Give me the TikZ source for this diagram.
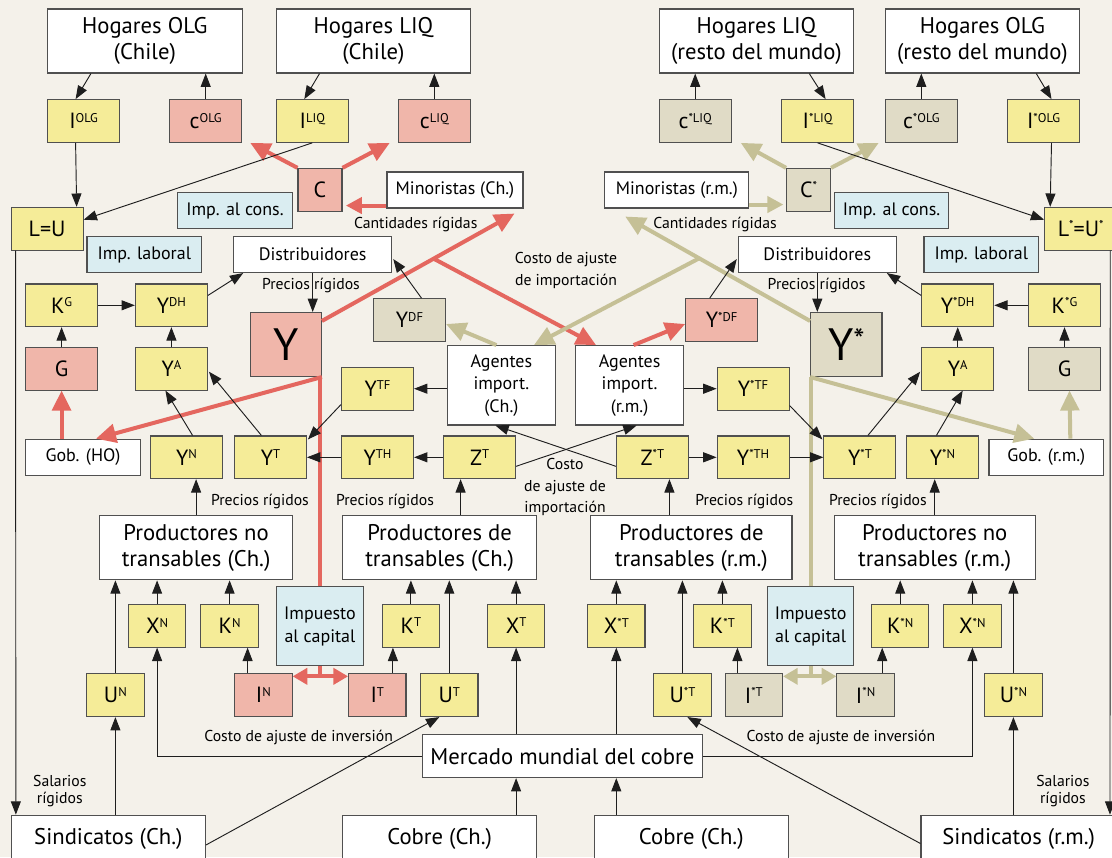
\documentclass[tikz,border=0pt]{standalone}
\usepackage{fontspec}
\setmainfont{PT Sans}
\usetikzlibrary{
    arrows.meta,
    calc,
    positioning
}
\definecolor{fondo}{RGB}{244,241,234}
\definecolor{amarillo}{RGB}{245,236,152}
\definecolor{rosa}{RGB}{240,182,170}
\definecolor{celeste}{RGB}{218,237,241}
\definecolor{caqui}{RGB}{224,219,198}
\definecolor{borde}{RGB}{80,80,80}
\definecolor{linea}{RGB}{30,30,30}
\definecolor{rojoflecha}{RGB}{228,103,95}
\definecolor{caquiflecha}{RGB}{197,192,150}
\newcommand\vsup[2]{#1\raisebox{4.9pt}{\fontsize{9.5}{9.5}\selectfont #2}}
\tikzset{
    every picture/.style = {
        > = {Triangle[length = 10pt, width = 7.5pt]},
        line width = 0.7pt,
        draw = linea
    },
    caja/.style = {
        draw = borde,
        line width = 0.8pt,
        inner sep = 0pt,
        align = center
    },
    hogar/.style = {
        caja, fill = white,
        minimum width = 146pt, minimum height = 48pt,
        font = \fontsize{17}{20}\selectfont
    },
    medio/.style = {
        caja, fill = white,
        minimum height = 27pt,
        font = \fontsize{13.5}{17}\selectfont
    },
    magnitud/.style = {
        caja, fill = amarillo,
        minimum width = 54pt, minimum height = 32pt,
        font = \fontsize{16.5}{18}\selectfont
    },
    chica/.style = {magnitud, minimum width = 43pt},
    grande/.style = {
        caja,
        minimum width = 53.5pt, minimum height = 48pt,
        font = \fontsize{34}{34}\selectfont
    },
    rojiza/.style = {fill = rosa},
    caqui/.style = {fill = caqui},
    impuesto/.style = {medio, fill = celeste},
    etiq/.style = {
        inner sep = 0pt, align = center,
        font = \fontsize{11.8}{16.3}\selectfont
    },
    flecharoja/.style = {
        draw = rojoflecha, line width = 3pt,
        -{Triangle[length = 15pt, width = 14pt]}
    },
    flechacaqui/.style = {
        draw = caquiflecha, line width = 3pt,
        -{Triangle[length = 15pt, width = 14pt]}
    },
    corta/.style = {-{Triangle[length = 11pt, width = 12pt]}}
}

\begin{document}
\begin{tikzpicture}[x = 0.75pt, y = -0.75pt]
\fill[fondo] (0,0) rectangle (1112,857);
\useasboundingbox (0,0) rectangle (1112,857);
\clip (0,0) rectangle (1112,857);

% hogares
\node[hogar] (hoc) at (144.8,41) {Hogares OLG\\(Chile)};
\node[hogar] (hlc) at (373.4,41) {Hogares LIQ\\(Chile)};
\node[hogar] (hlr) at (756.4,41) {Hogares LIQ\\(resto del mundo)};
\node[hogar] (hor) at (982.4,41) {Hogares OLG\\(resto del mundo)};

\node[magnitud] (iolg) at (83.6,121) {\vsup{I}{OLG}};
\node[magnitud, rojiza] (colg) at (205.7,121) {\vsup{c}{OLG}};
\node[magnitud] (iliq) at (312.3,121) {\vsup{I}{LIQ}};
\node[magnitud, rojiza] (cliq) at (434.3,121) {\vsup{c}{LIQ}};
\node[magnitud, caqui] (cliqs) at (695.2,121) {\vsup{c}{*LIQ}};
\node[magnitud] (iliqs) at (817.6,121) {\vsup{I}{*LIQ}};
\node[magnitud, caqui] (colgs) at (921.3,121) {\vsup{c}{*OLG}};
\node[magnitud] (iolgs) at (1043.5,121) {\vsup{I}{*OLG}};

\node[magnitud, rojiza, minimum width = 33pt] (c) at (320,189.7) {C};
\node[magnitud, caqui, minimum width = 33pt] (cs) at (808.6,189.7) {\vsup{C}{*}};
\node[medio, minimum width = 102pt] (minc) at (455,190) {Minoristas (Ch.)};
\node[medio, minimum width = 108pt] (minr) at (676.8,190) {Minoristas (r.m.)};
\node[impuesto, minimum width = 86pt] (impcc) at (235,210.8) {Imp. al cons.};
\node[impuesto, minimum width = 86pt] (impcr) at (891.6,210.8) {Imp. al cons.};
\node[magnitud] (lu) at (47.1,228.7) {L=U};
\node[magnitud] (lus) at (1080.7,228.7) {\vsup{L}{*}=\vsup{U}{*}};
\node[impuesto, minimum width = 86pt] (implc) at (144.3,254.5) {Imp. laboral};
\node[impuesto, minimum width = 86pt] (implr) at (981.3,254.5) {Imp. laboral};
\node[medio, minimum width = 118.5pt] (distc) at (312.7,254.5) {Distribuidores};
\node[medio, minimum width = 118.5pt] (distr) at (817.3,254.5) {Distribuidores};

% Chile
\node[magnitud] (kg) at (61.6,305.3) {\vsup{K}{G}};
\node[magnitud] (ydh) at (171.4,305.3) {\vsup{Y}{DH}};
\node[magnitud, rojiza] (g) at (61.6,368.7) {G};
\node[magnitud] (ya) at (171.4,368.7) {\vsup{Y}{A}};
\node[grande, rojiza] (y) at (285.7,344.5) {Y};
\node[magnitud, caqui] (ydf) at (409.5,320) {\vsup{Y}{DF}};
\node[medio, minimum width = 81pt, minimum height = 59.5pt] (agc) at (501.4,385.3) {Agentes\\import.\\(Ch.)};
\node[magnitud] (ytf) at (377.5,388.7) {\vsup{Y}{TF}};
\node[medio, minimum width = 86pt] (gobc) at (83,457.2) {Gob. (HO)};
\node[magnitud] (yn) at (186.6,457.3) {\vsup{Y}{N}};
\node[magnitud] (yt) at (270.4,457.3) {\vsup{Y}{T}};
\node[magnitud] (yth) at (377.5,457.3) {\vsup{Y}{TH}};
\node[magnitud] (zt) at (479.6,457.3) {\vsup{Z}{T}};

% resto del mundo
\node[magnitud, rojiza] (ydfs) at (721.7,320) {\vsup{Y}{*DF}};
\node[grande, caqui] (ys) at (846.3,344.5) {Y\raisebox{7pt}{\fontsize{24}{24}\selectfont *}};
\node[medio, minimum width = 81pt, minimum height = 59.5pt] (agr) at (629.6,385.3) {Agentes\\import.\\(r.m.)};
\node[magnitud] (ytfs) at (753.1,388.7) {\vsup{Y}{*TF}};
\node[magnitud] (ydhs) at (957.7,305.3) {\vsup{Y}{*DH}};
\node[magnitud] (kgs) at (1064.5,305.3) {\vsup{K}{*G}};
\node[magnitud] (yas) at (957.7,368.7) {\vsup{Y}{A}};
\node[magnitud, caqui] (gs) at (1064.5,368.7) {G};
\node[magnitud] (zts) at (652.4,457.3) {\vsup{Z}{*T}};
\node[magnitud] (yths) at (753.1,457.3) {\vsup{Y}{*TH}};
\node[magnitud] (yts) at (859.9,457.3) {\vsup{Y}{*T}};
\node[magnitud] (yns) at (942.4,457.3) {\vsup{Y}{*N}};
\node[medio, minimum width = 86pt] (gobr) at (1046.3,457.2) {Gob. (r.m.)};

% productores
\node[hogar, minimum width = 145pt] (pnc) at (196.1,547.8) {Productores no\\transables (Ch.)};
\node[hogar, minimum width = 145pt] (ptc) at (439.6,547.8) {Productores de\\transables (Ch.)};
\node[hogar, minimum width = 151pt] (ptr) at (691.3,547.8) {Productores de\\transables (r.m.)};
\node[hogar, minimum width = 151pt] (pnr) at (934.7,547.8) {Productores no\\transables (r.m.)};

\node[chica] (xn) at (157.1,625.8) {\vsup{X}{N}};
\node[chica] (kn) at (229.6,625.8) {\vsup{K}{N}};
\node[chica] (kt) at (410.9,625.8) {\vsup{K}{T}};
\node[chica] (xt) at (516.1,625.8) {\vsup{X}{T}};
\node[chica] (xts) at (616.3,625.8) {\vsup{X}{*T}};
\node[chica] (kts) at (722.4,625.8) {\vsup{K}{*T}};
\node[chica] (kns) at (900.2,625.8) {\vsup{K}{*N}};
\node[chica] (xns) at (972.4,625.8) {\vsup{X}{*N}};
\node[impuesto, minimum width = 65pt, minimum height = 59pt] (impkc) at (320,626.2) {Impuesto\\al capital};
\node[impuesto, minimum width = 65pt, minimum height = 59pt] (impkr) at (810.6,626.2) {Impuesto\\al capital};

\node[chica] (un) at (115.4,695.2) {\vsup{U}{N}};
\node[chica, rojiza] (invn) at (263.4,695.2) {\vsup{I}{N}};
\node[chica, rojiza] (invt) at (377.3,695.2) {\vsup{I}{T}};
\node[chica] (ut) at (449.3,695.2) {\vsup{U}{T}};
\node[chica] (uts) at (682.4,695.2) {\vsup{U}{*T}};
\node[chica, caqui] (invts) at (753.8,695.2) {\vsup{I}{*T}};
\node[chica, caqui] (invns) at (865.6,695.2) {\vsup{I}{*N}};
\node[chica] (uns) at (1013.4,695.2) {\vsup{U}{*N}};

\node[hogar, minimum width = 210pt, minimum height = 32pt] (merc) at (562.3,756.2) {Mercado mundial del cobre};
\node[hogar, minimum width = 145.5pt, minimum height = 35pt] (cobc) at (439.7,838.5) {Cobre (Ch.)};
\node[hogar, minimum width = 145.5pt, minimum height = 35pt] (cobr) at (691.3,838.5) {Cobre (Ch.)};
\node[hogar, minimum width = 145.5pt, minimum height = 35pt] (sc) at (108.4,838.5) {Sindicatos (Ch.)};
\node[hogar, minimum width = 146.6pt, minimum height = 35pt] (sr) at (1018.7,838.5) {Sindicatos (r.m.)};

% etiquetas
\node[etiq] (cr1) at (415.7,224.3) {Cantidades rígidas};
\node[etiq] (cr2) at (715,224.3) {Cantidades rígidas};
\node[etiq] (pr1) at (311,285) {Precios rígidos};
\node[etiq] (pr2) at (816.6,285) {Precios rígidos};
\node[etiq] (pr3) at (260,501.7) {Precios rígidos};
\node[etiq] (pr4) at (385,501.7) {Precios rígidos};
\node[etiq] (pr5) at (744.3,501.7) {Precios rígidos};
\node[etiq] (pr6) at (877.9,501.7) {Precios rígidos};
\node[etiq] (cai1) at (298.6,737.3) {Costo de ajuste de inversión};
\node[etiq] (cai2) at (840.9,737.3) {Costo de ajuste de inversión};
\node[etiq, font = \fontsize{11.8}{17}\selectfont] (cam1) at (566,270.5) {Costo de ajuste\\de importación};
\node[etiq] (cam2) at (565,487) {Costo\\de ajuste de\\importación};
\node[etiq, font = \fontsize{11.8}{12.5}\selectfont] (sal1) at (59.8,791) {Salarios\\rígidos};
\node[etiq, font = \fontsize{11.8}{12.5}\selectfont] (sal2) at (1062.9,791) {Salarios\\rígidos};

% flechas gruesas
\draw[flecharoja] (c.north west) -- ($(colg.south east)+(8,0)$);
\draw[flecharoja] (c.north east) -- ($(cliq.south west)+(-8,0)$);
\draw[flechacaqui] (cs.north west) -- ($(cliqs.south east)+(9,0)$);
\draw[flechacaqui] (cs.north east) -- ($(colgs.south west)+(-6,0)$);
\draw[flecharoja, -{Triangle[length = 12pt, width = 12pt]}, shorten > = 2.5pt]
    ($(minc.south west)+(0,-3)$) coordinate (m1) -- (m1 -| c.east);
\draw[flechacaqui, -{Triangle[length = 12pt, width = 12pt]}, shorten > = 2pt]
    ($(minr.south east)+(0,-4)$) coordinate (m2) -- (m2 -| cs.west);
\draw[flecharoja] (y.south east) -- ($(gobc.north)+(13,0)$);
\draw[flecharoja] (gobc.north -| g.south) -- (g.south);
\draw[flecharoja] ($(y.north east)+(0,9)$) coordinate (r0) -- ($(minc.south east)+(-9,5)$) coordinate (r1);
\draw[flecharoja] ($(r0)!0.58!(r1)$) -- ($(agr.north west)+(21,0)$);
\draw[flecharoja] ($(agr.north)+(4,0)$) -- ($(ydfs.west)+(0,4)$);
\draw[flechacaqui] ($(ys.north west)+(0,9)$) coordinate (q0) -- ($(minr.south west)+(21,8)$) coordinate (q1);
\draw[flechacaqui] ($(q0)!0.6!(q1)$) -- ($(agc.north east)+(-22,0)$);
\draw[flechacaqui] ($(agc.north)+(-5,0)$) -- ($(ydf.east)+(0,4)$);
\draw[flechacaqui] (ys.south west) -- ($(gobr.north)+(-12,0)$);
\draw[flechacaqui] ($(gobr.north)+(24,0)$) -- ($(gs.south)+(5,0)$);
\draw[flecharoja, -] (impkc.north) -- (impkc.north |- y.south);
\draw[flechacaqui, -] (impkr.north) -- (impkr.north |- ys.south);
\draw[flecharoja, corta] (impkc.south) |- ($(invn.north east)+(0,3)$);
\draw[flecharoja, corta] (impkc.south) |- ($(invt.north west)+(0,3)$);
\draw[flechacaqui, corta] (impkr.south) |- ($(invts.north east)+(0,3)$);
\draw[flechacaqui, corta] (impkr.south) |- ($(invns.north west)+(0,3)$);

% hogares y trabajo
\draw[->] ($(hoc.south west)+(44,0)$) -- ($(iolg.north)+(-8,0)$);
\draw[->] (colg.north) -- (colg.north |- hoc.south);
\draw[->] ($(hlc.south west)+(44,0)$) -- ($(iliq.north)+(-8,0)$);
\draw[->] (cliq.north) -- (cliq.north |- hlc.south);
\draw[->] (cliqs.north) -- (cliqs.north |- hlr.south);
\draw[->] ($(hlr.south east)+(-45,0)$) -- ($(iliqs.north)+(8,0)$);
\draw[->] (colgs.north) -- (colgs.north |- hor.south);
\draw[->] ($(hor.south east)+(-44,0)$) -- ($(iolgs.north)+(8,0)$);
\draw[->] ($(iolg.south)+(-8,0)$) -- ($(lu.north east)+(-7,0)$);
\draw[->] (iliq.south) -- ($(lu.east)+(0,-9)$);
\draw[->] (iliqs.south) -- ($(lus.west)+(0,-9)$);
\draw[->] ($(iolgs.south)+(8,0)$) -- ($(lus.north west)+(6,0)$);
\draw[->] ($(lu.south west)+(5,0)$) -- ($(sc.north west)+(5,0)$);
\draw[->] ($(lus.south east)+(-7,0)$) -- ($(sr.north east)+(-7,0)$);

% Chile
\draw[->] (kg) -- (ydh);
\draw[->] (g) -- (kg);
\draw[->] (ya) -- (ydh);
\draw[->] ($(ydh.north east)+(0,12)$) -- ($(distc.south west)+(10,0)$);
\draw[->] (distc.south) -- (distc.south |- y.north);
\draw[->] ($(ydf.north)+(12,0)$) -- ($(distc.south east)+(1,-14)$);
\draw[->] (agc.west |- ytf) -- (ytf.east);
\draw[->] ($(ytf.south west)+(0,-6)$) -- ($(yt.north east)+(1,4)$);
\draw[->] (zt) -- (yth);
\draw[->] (yth) -- (yt);
\draw[->] ($(yn.north)+(6,0)$) -- ($(ya.south)+(-6,0)$);
\draw[->] ($(yt.north)+(-9,0)$) -- ($(ya.east)+(1,3)$);

% resto del mundo
\draw[->] (agr.east |- ytfs) -- (ytfs.west);
\draw[->] ($(ytfs.south east)+(0,-5)$) -- ($(yts.north west)+(-1,4)$);
\draw[->] (zts) -- (yths);
\draw[->] (yths) -- (yts);
\draw[->] ($(yts.north)+(8,0)$) -- ($(yas.west)+(-1,3)$);
\draw[->] ($(yns.north)+(-6,0)$) -- ($(yas.south)+(5,0)$);
\draw[->] (yas) -- (ydhs);
\draw[->] (gs) -- (kgs);
\draw[->] (kgs) -- (ydhs);
\draw[->] ($(ydhs.north west)+(0,12)$) -- ($(distr.south east)+(-10,0)$);
\draw[->] ($(ydfs.north)+(-12,0)$) -- ($(distr.south west)+(-1,-14)$);
\draw[->] (distr.south) -- (distr.south |- ys.north);

% importaciones
\draw[->] ($(zt.east)+(0,9)$) -- ($(agr.south)+(7,0)$);
\draw[->] ($(zts.west)+(0,9)$) -- ($(agc.south)+(-6,0)$);

% productores
\draw[->] (pnc.north) -- (pnc.north |- yn.south);
\draw[<-] ($(zt.south)+(-19,0)$) coordinate (z1) -- (z1 |- ptc.north);
\draw[<-] ($(zts.south)+(17,0)$) coordinate (z2) -- (z2 |- ptr.north);
\draw[->] (pnr.north) -- (pnr.north |- yns.south);
\foreach \n in {un, xn, kn}
    \draw[->] (\n.north) -- (\n.north |- pnc.south);
\foreach \n in {kt, ut, xt}
    \draw[->] (\n.north) -- (\n.north |- ptc.south);
\foreach \n in {xts, uts, kts}
    \draw[->] (\n.north) -- (\n.north |- ptr.south);
\foreach \n in {kns, xns, uns}
    \draw[->] (\n.north) -- (\n.north |- pnr.south);
\draw[<-] ($(kn.south)+(18,0)$) coordinate (kk1) -- (kk1 |- invn.north);
\draw[<-] ($(kt.south)+(-18,0)$) coordinate (kk2) -- (kk2 |- invt.north);
\draw[<-] ($(kts.south)+(15,0)$) coordinate (kk3) -- (kk3 |- invts.north);
\draw[<-] ($(kns.south)+(-18,0)$) coordinate (kk4) -- (kk4 |- invns.north);

% cobre y sindicatos
\draw[->] (merc.west) -| (xn.south);
\draw[->] (merc.east) -| (xns.south);
\draw[->] (xt.south |- merc.north) -- (xt.south);
\draw[->] (xts.south |- merc.north) -- (xts.south);
\draw[->] (xt.south |- cobc.north) -- (xt.south |- merc.south);
\draw[->] (xts.south |- cobr.north) -- (xts.south |- merc.south);
\draw[->] (un.south |- sc.north) -- (un.south);
\draw[->] ($(sc.east)+(0,6.5)$) -- ($(ut.south)+(-10,0)$);
\draw[->] (uns.south |- sr.north) -- (uns.south);
\draw[->] ($(sr.west)+(0,5)$) -- ($(uts.south)+(5,0)$);
\end{tikzpicture}
\end{document}
